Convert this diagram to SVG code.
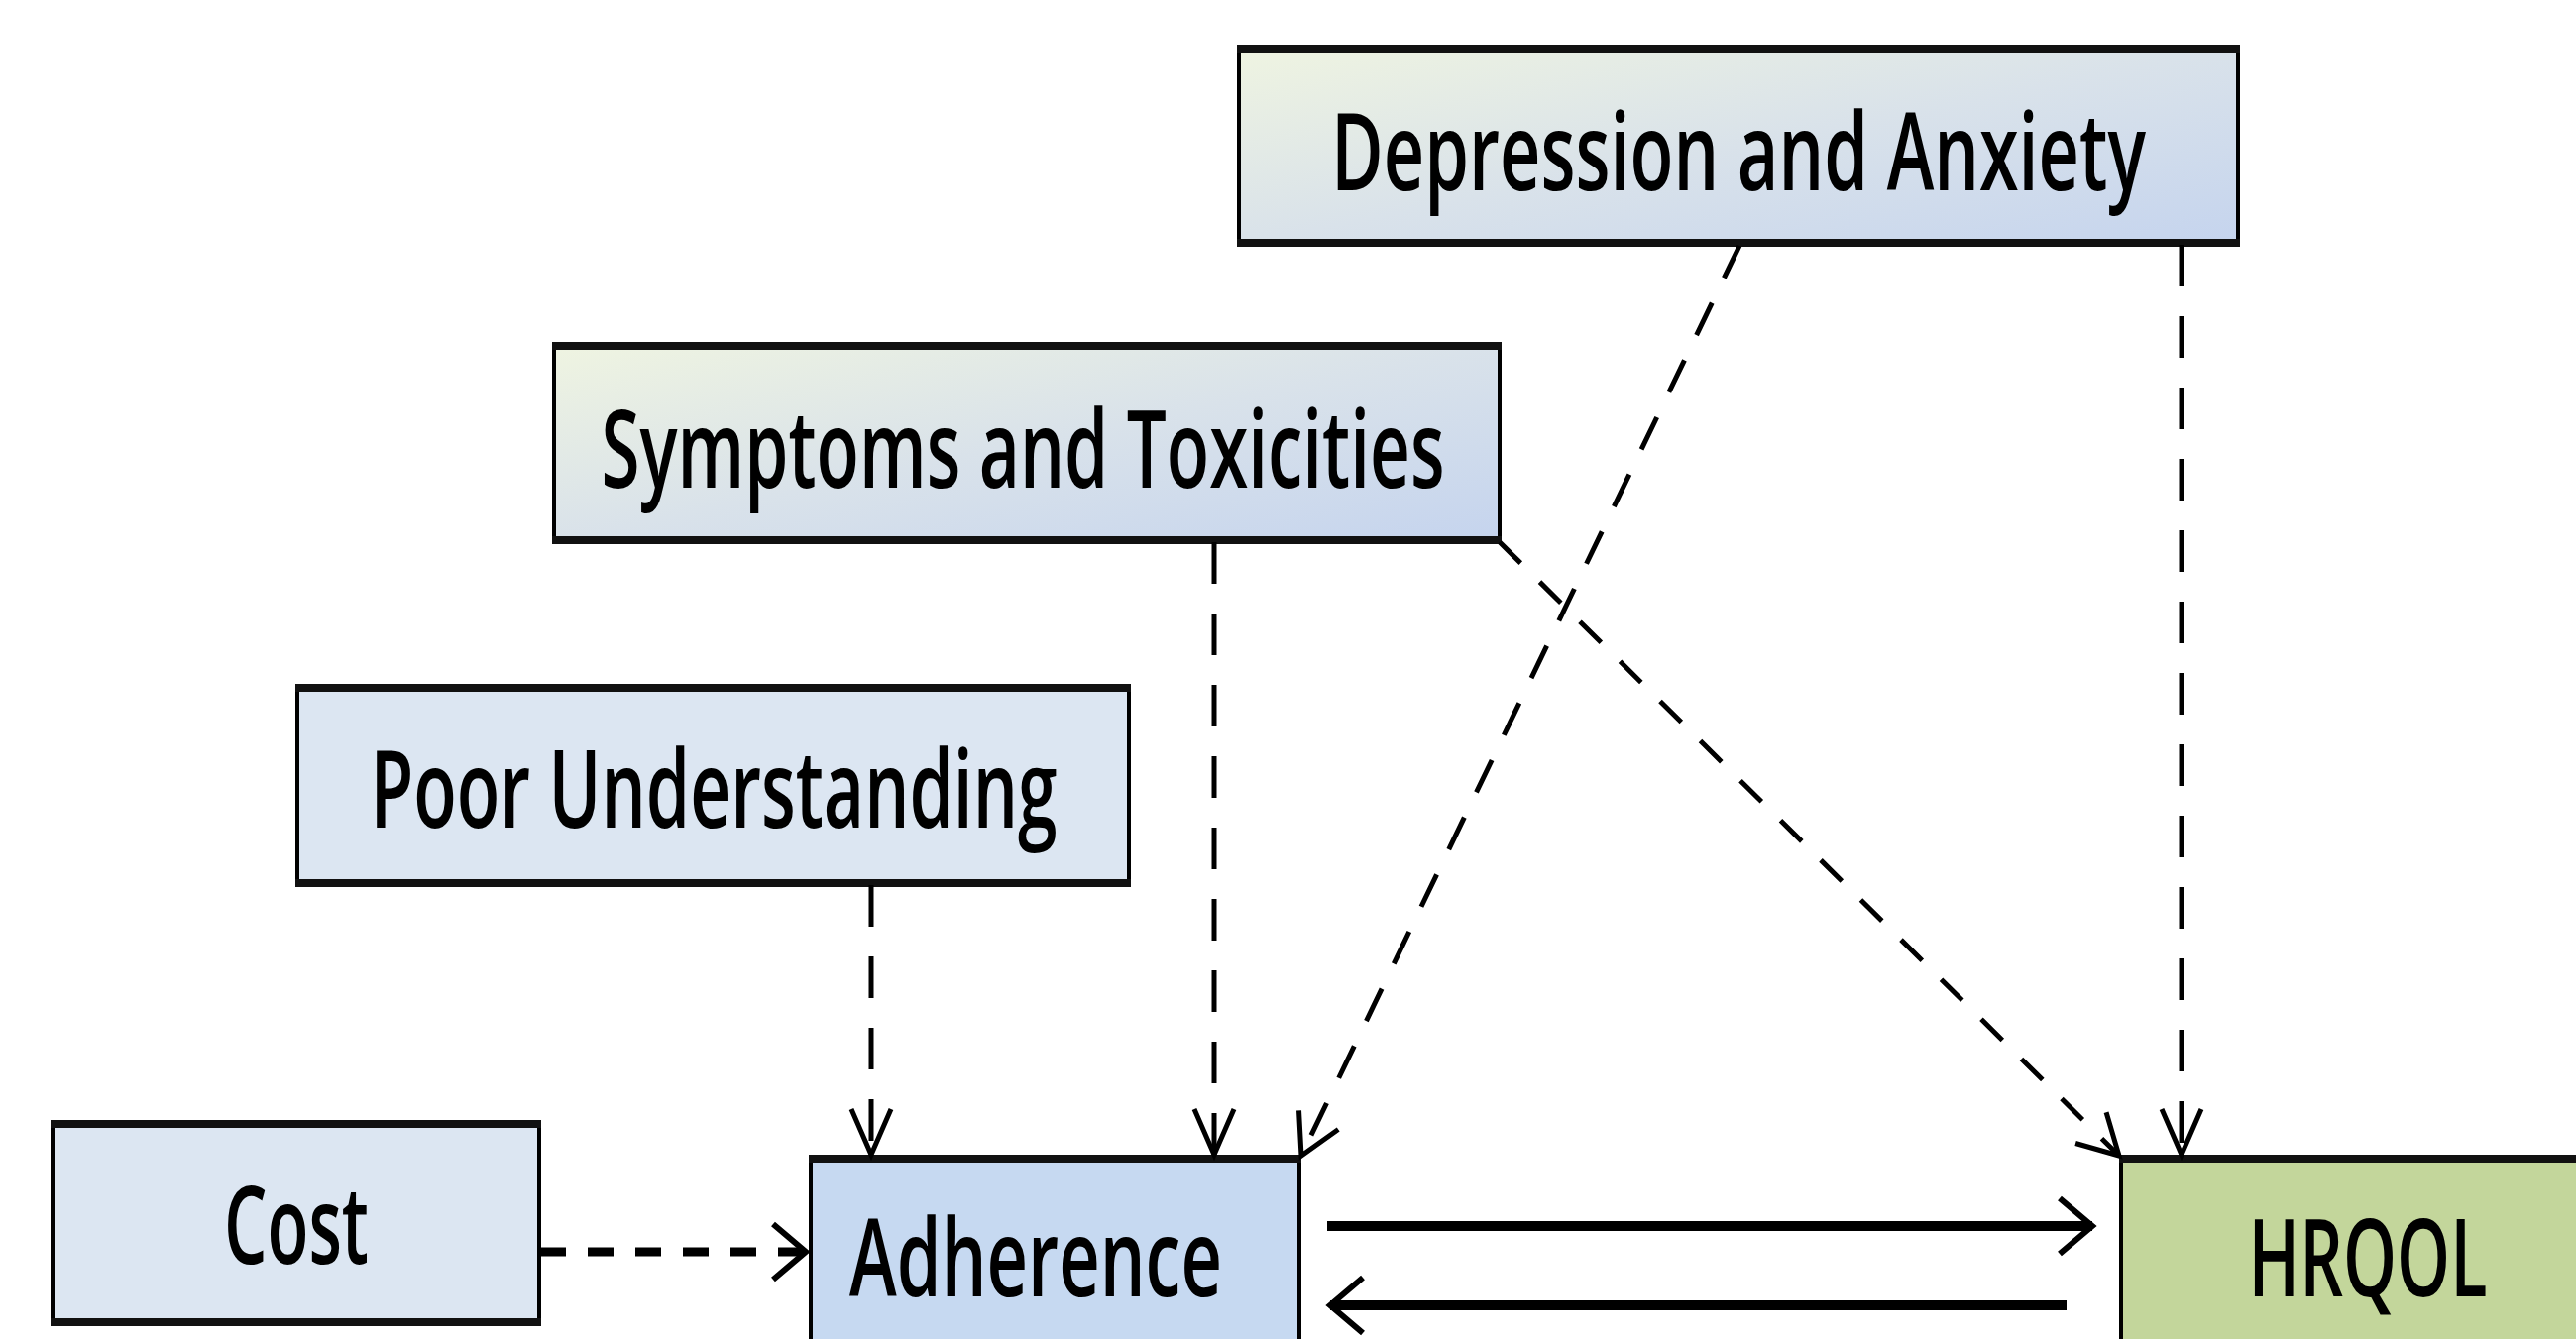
<svg xmlns="http://www.w3.org/2000/svg" width="2599" height="1351" viewBox="0 0 2599 1351">
<style>
.box{stroke:#000;stroke-width:4}
.edge{stroke:#111;stroke-width:8}
.lbl{font-family:"Open Sans","Liberation Sans",sans-serif;font-size:108px;font-weight:600;fill:#000;text-anchor:middle}
.dash{fill:none;stroke:#000;stroke-width:5}
.dashh{fill:none;stroke:#000;stroke-width:9}
.solid{fill:none;stroke:#000;stroke-width:10}
</style>
<defs>
<linearGradient id="gr" x1="0" y1="0" x2="1" y2="1">
<stop offset="0" stop-color="#eff4e1"/>
<stop offset="0.5" stop-color="#d9e2ea"/>
<stop offset="1" stop-color="#c5d4ee"/>
</linearGradient>
<marker id="av" markerUnits="userSpaceOnUse" markerWidth="100" markerHeight="100" refX="0" refY="0" orient="auto" overflow="visible">
<path d="M-46,-20 L0,0 L-46,20" fill="none" stroke="#000" stroke-width="5"/>
</marker>
<marker id="ad" markerUnits="userSpaceOnUse" markerWidth="100" markerHeight="100" refX="0" refY="0" orient="auto" overflow="visible">
<path d="M-40,-22 L0,0 L-40,22" fill="none" stroke="#000" stroke-width="5"/>
</marker>
<marker id="ah" markerUnits="userSpaceOnUse" markerWidth="100" markerHeight="100" refX="0" refY="0" orient="auto" overflow="visible">
<path d="M-33,-28 L0,0 L-33,28" fill="none" stroke="#000" stroke-width="6"/>
</marker>
</defs>
<rect width="2599" height="1351" fill="#fff"/>

<g id="depression">
<rect class="box" x="1250" y="48" width="1008" height="198" fill="url(#gr)"/>
<line class="edge" x1="1248" y1="49" x2="2260" y2="49"/>
<line class="edge" x1="1248" y1="245" x2="2260" y2="245"/>
<text class="lbl" x="1754" y="192" textLength="822" lengthAdjust="spacingAndGlyphs">Depression and Anxiety</text>
</g>

<g id="symptoms">
<rect class="box" x="559" y="348" width="954" height="198" fill="url(#gr)"/>
<line class="edge" x1="557" y1="349" x2="1515" y2="349"/>
<line class="edge" x1="557" y1="545" x2="1515" y2="545"/>
<text class="lbl" x="1032" y="492" textLength="851" lengthAdjust="spacingAndGlyphs">Symptoms and Toxicities</text>
</g>

<g id="poor">
<rect class="box" x="300" y="693" width="839" height="199" fill="#dce6f2"/>
<line class="edge" x1="298" y1="694" x2="1141" y2="694"/>
<line class="edge" x1="298" y1="891" x2="1141" y2="891"/>
<text class="lbl" x="720" y="835" textLength="693" lengthAdjust="spacingAndGlyphs">Poor Understanding</text>
</g>

<g id="cost">
<rect class="box" x="53" y="1133" width="491" height="202" fill="#dce6f2"/>
<line class="edge" x1="51" y1="1134" x2="546" y2="1134"/>
<line class="edge" x1="51" y1="1334" x2="546" y2="1334"/>
<text class="lbl" x="299" y="1275" textLength="146" lengthAdjust="spacingAndGlyphs">Cost</text>
</g>

<g id="adherence">
<rect class="box" x="818" y="1168" width="493" height="240" fill="#c6d9f1"/>
<line class="edge" x1="816" y1="1169" x2="1313" y2="1169"/>
<text class="lbl" x="1045" y="1308" textLength="376" lengthAdjust="spacingAndGlyphs">Adherence</text>
</g>

<g id="hrqol">
<rect class="box" x="2140" y="1168" width="520" height="240" fill="#c3d69b"/>
<line class="edge" x1="2138" y1="1169" x2="2610" y2="1169"/>
<text class="lbl" x="2389" y="1308" textLength="241" lengthAdjust="spacingAndGlyphs">HRQOL</text>
</g>

<g id="connectors">
<line class="dash" x1="879" y1="893" x2="879" y2="1165" stroke-dasharray="42 30" marker-end="url(#av)"/>
<line class="dash" x1="1225" y1="547" x2="1225" y2="1165" stroke-dasharray="42 30" marker-end="url(#av)"/>
<line class="dash" x1="2201" y1="247" x2="2201" y2="1165" stroke-dasharray="42 30" marker-end="url(#av)"/>
<line class="dash" x1="1755" y1="248" x2="1313" y2="1166" stroke-dasharray="36 28" marker-end="url(#ad)"/>
<line class="dash" x1="1513" y1="547" x2="2138" y2="1166" stroke-dasharray="30 27" marker-end="url(#ad)"/>
<line class="dashh" x1="545" y1="1263" x2="813" y2="1263" stroke-dasharray="26 22" marker-end="url(#ah)"/>
<line class="solid" x1="1339" y1="1237" x2="2111" y2="1237" marker-end="url(#ah)"/>
<line class="solid" x1="2085" y1="1317" x2="1342" y2="1317" marker-end="url(#ah)"/>
</g>
</svg>
